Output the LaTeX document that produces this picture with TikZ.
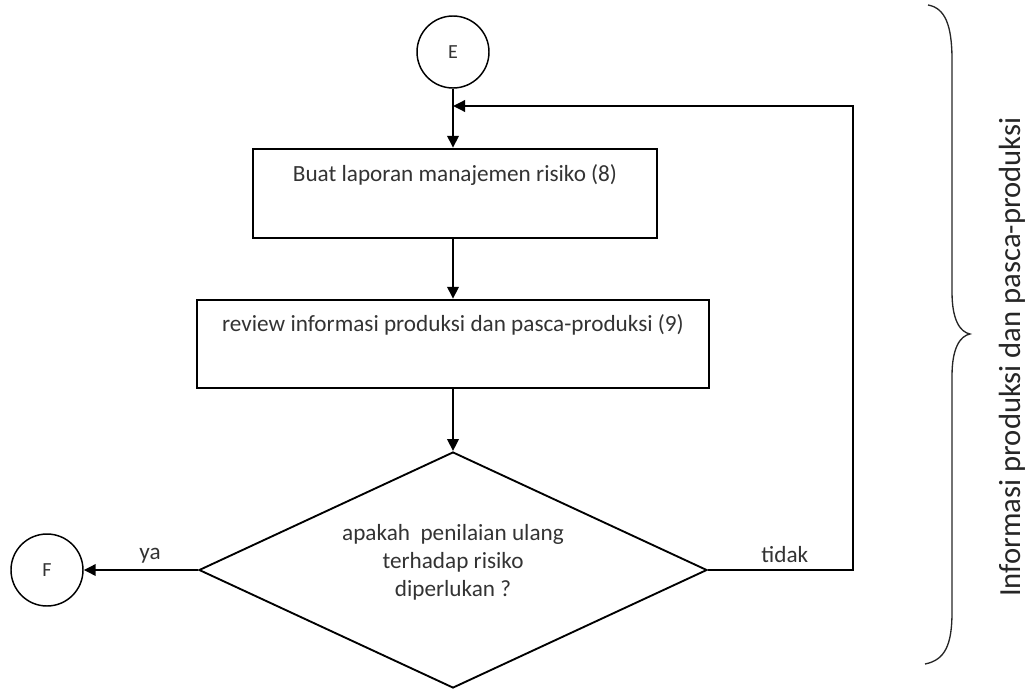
\documentclass[tikz,border=0pt]{standalone}
\usepackage{fontspec}
\setmainfont{Carlito}
\usetikzlibrary{arrows.meta,shapes.geometric}
\begin{document}
\begin{tikzpicture}[x=0.75pt,y=-0.75pt,
  txt/.style={font=\fontsize{17.4}{21}\selectfont, text=black!80},
  conn/.style={circle, draw, line width=1.1pt, minimum size=54pt, inner sep=0pt, font=\fontsize{15}{18}\selectfont, text=black!80},
  procbox/.style={rectangle, draw, line width=1.8pt, inner sep=0pt},
  decision/.style={diamond, draw, line width=1.4pt, inner sep=0pt, shape aspect=2.15, minimum width=381pt, minimum height=177pt},
  flow/.style={line width=1.8pt, -{Triangle[length=9pt,width=8.5pt]}},
  lbl/.style={txt, above=1pt},
]
\useasboundingbox (0,0) rectangle (1030,688);

\node[conn] (E) at (453,52) {E};
\node[procbox, minimum width=303pt, minimum height=66.75pt,
  label={[txt, anchor=base, yshift=-25.5pt]north:Buat laporan manajemen risiko (8)}] (B1) at (455,193.5) {};
\node[procbox, minimum width=384pt, minimum height=66pt,
  label={[txt, anchor=base, yshift=-24.75pt]north:review informasi produksi dan pasca-produksi (9)}] (B2) at (453,344) {};
\node[decision,
  label={[txt, align=center, yshift=6pt]center:apakah~ penilaian ulang\\terhadap risiko\\diperlukan ?}] (D) at (453,570) {};
\node[conn] (F) at (47,570) {F};

\coordinate (loopR) at (853,106);
\coordinate (loopL) at (453,106);

\draw[flow] (E.south) -- (E.south |- B1.north);
\draw[flow] (B1.south -| E.south) -- (E.south |- B2.north);
\draw[flow] (B2.south -| E.south) -- (D.north);
\draw[flow] (D.west) -- node[lbl, pos=0.42] {ya} (F.east);
\draw[flow] (D.east) -- node[lbl, pos=0.53] {tidak} (D.east -| loopR) -- (loopR) -- (loopL);

\draw[line width=1pt, black!85] (928,5) .. controls (945,8) and (952,25) .. (952,60)
  -- (952,292) .. controls (952,320) and (960,332) .. (970,334)
  .. controls (960,336) and (952,348) .. (952,376)
  -- (952,612) .. controls (952,645) and (945,660) .. (925,664);

\node[rotate=90, font=\fontsize{23}{27}\selectfont, text=black!85] (T) at (1012,357) {Informasi produksi dan pasca-produksi};
\end{tikzpicture}
\end{document}
